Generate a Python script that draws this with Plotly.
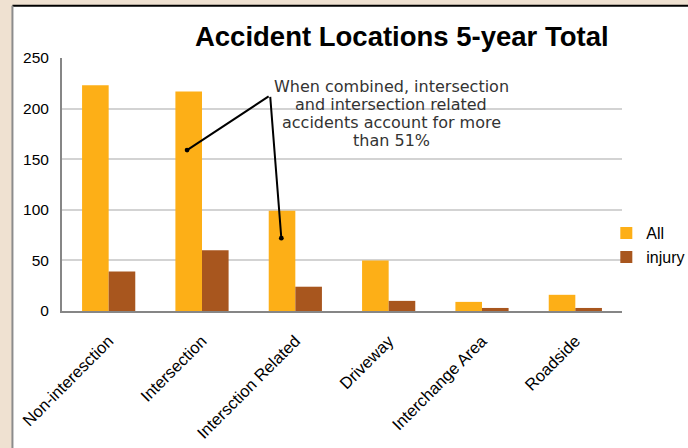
import plotly.graph_objects as go

# ── Data ──────────────────────────────────────────────────────────────────────
categories = ["Non-interesction", "Intersection", "Intersction Related",
              "Driveway", "Interchange Area", "Roadside"]
all_counts = [223, 217, 99, 50, 9, 16]
injury_counts = [39, 60, 24, 10, 3, 3]

note_lines = ["When combined, intersection", "and intersection related",
              "accidents account for more", "than 51%"]

ORANGE = "#FDAF17"
BROWN = "#A8561E"
BEIGE = "#EFE1D1"

fig = go.Figure()
fig.add_trace(go.Bar(x=categories, y=all_counts, name="All",
                     marker=dict(color=ORANGE, line=dict(width=0))))
fig.add_trace(go.Bar(x=categories, y=injury_counts, name="injury",
                     marker=dict(color=BROWN, line=dict(width=0))))

# white chart panel on the beige page
fig.add_shape(type="rect", xref="paper", yref="paper",
              x0=-0.0875, x1=1.3, y0=-1.0, y1=1.207,
              fillcolor="white", line=dict(width=0), layer="below")
fig.add_shape(type="line", xref="paper", yref="paper",
              x0=-0.0885, x1=1.3, y0=1.207, y1=1.207,
              line=dict(color="black", width=2), layer="below")
fig.add_shape(type="line", xref="paper", yref="paper",
              x0=-0.0885, x1=-0.0885, y0=-1.0, y1=1.207,
              line=dict(color="#8C8C8C", width=2), layer="below")

# callout text, one annotation per line to keep the tight line spacing
for i, line in enumerate(note_lines):
    fig.add_annotation(x=0.588, y=0.889 - i * 0.0712, xref="paper", yref="paper",
                       text=line, showarrow=False,
                       xanchor="center", yanchor="middle",
                       font=dict(family="DejaVu Sans", size=16, color="#333333"))

# pointer lines with dot ends (category index positions)
apex_x, apex_y = 1.73, 213
for px, py in [(0.84, 159), (1.85, 72)]:
    fig.add_annotation(x=px, y=py, xref="x", yref="y",
                       ax=apex_x, ay=apex_y, axref="x", ayref="y",
                       showarrow=True, arrowhead=6, arrowsize=0.6,
                       arrowwidth=2, arrowcolor="black", text="")

fig.update_layout(
    width=688, height=448,
    margin=dict(l=62, r=66, t=58, b=137, autoexpand=False),
    paper_bgcolor=BEIGE, plot_bgcolor="rgba(0,0,0,0)",
    font=dict(family="Liberation Sans, Arial", size=15, color="black"),
    title=dict(text="<b>Accident Locations 5-year Total</b>",
               x=0.584, xanchor="center", y=0.918, yanchor="middle",
               font=dict(size=27.5, color="black")),
    barmode="group", bargap=0.43, bargroupgap=0,
    showlegend=True,
    legend=dict(x=0.972, xref="paper", y=0.26, xanchor="left",
                yanchor="middle", font=dict(size=16), itemwidth=30,
                tracegroupgap=0, bgcolor="rgba(0,0,0,0)"),
    xaxis=dict(showline=True, linecolor="#868686", linewidth=2,
               tickangle=-45, ticks="", tickfont=dict(size=16.5),
               automargin=False, ticklabelstandoff=12),
    yaxis=dict(range=[0, 250], dtick=50, showline=True, linecolor="#868686",
               linewidth=2, gridcolor="#D3D3D3", gridwidth=2,
               zeroline=False, ticks="", tickfont=dict(size=15.5),
               automargin=False, ticklabelstandoff=8),
)

# drop the default 8px page margin so the figure sits at the window corner
fig.write_html("out.html", config={"displayModeBar": False},
               post_script="document.body.style.margin='0';")
